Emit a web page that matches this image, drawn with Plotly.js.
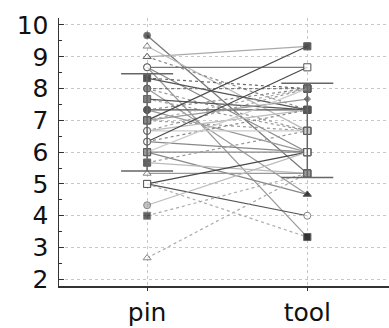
<!DOCTYPE html>
<html>
<head>
<meta charset="utf-8">
<script src="https://cdn.plot.ly/plotly-3.0.1.min.js"></script>
<style>html,body{margin:0;padding:0;background:#fff}#chart{width:389px;height:328px}</style>
</head>
<body>
<div id="chart"></div>
<script>
// Categories
var categories = ['pin', 'tool'];
// Paired scores per subject
var pinScores  = [9.67, 9.33, 9.0, 9.0, 8.67, 8.67, 8.67, 8.33, 8.33, 8.0, 8.0, 8.0, 7.67, 7.67, 7.33, 7.33, 7.33, 7.0, 7.0, 7.0, 7.0, 6.67, 6.67, 6.67, 6.33, 6.33, 6.33, 6.0, 6.0, 6.0, 5.67, 5.67, 5.33, 5.0, 5.0, 5.0, 4.33, 4.0, 2.67];
var toolScores = [5.33, 6.67, 9.33, 7.33, 8.67, 6.0, 3.33, 8.0, 7.33, 6.67, 8.0, 4.67, 7.33, 6.67, 7.33, 6.0, 8.0, 9.33, 6.67, 7.67, 8.0, 8.0, 6.67, 7.33, 8.67, 7.33, 6.0, 6.0, 4.67, 8.0, 6.67, 5.33, 5.33, 6.0, 4.0, 3.33, 6.0, 5.33, 5.33];
// Line shade / dash per subject
var lineShade = ['#777', '#bbb', '#aaa', '#888', '#777', '#888', '#999', '#666', '#555', '#999', '#777', '#999', '#555', '#999', '#555', '#999', '#888', '#4a4a4a', '#999', '#999', '#aaa', '#999', '#ccc', '#bbb', '#4a4a4a', '#888', '#888', '#888', '#888', '#ccc', '#999', '#bbb', '#999', '#4a4a4a', '#555', '#aaa', '#bbb', '#aaa', '#aaa'];
var lineDash  = ['solid','solid','solid','dot','solid','solid','solid','dot','solid','dot','dot','solid','solid','dot','solid','solid','dot','solid','dot','solid','dot','dot','solid','solid','solid','dot','solid','solid','solid','solid','dot','solid','solid','solid','solid','dot','solid','dot','dot'];
// Marker style by score level at each condition
var pinLevels  = [9.67, 9.33, 9.0, 8.67, 8.33, 8.0, 7.67, 7.33, 7.0, 6.67, 6.33, 6.0, 5.67, 5.33, 5.0, 4.33, 4.0, 2.67];
var pinSymbols = ['circle','triangle-up','triangle-up','circle','square','circle','square','circle','square','circle','circle','square','square','triangle-up','square','circle','square','triangle-up'];
var pinFills   = ['#222','#fff','#fff','#fff','#444','#888','#777','#555','#888','#fff','#fff','#999','#555','#fff','#fff','#aaa','#222','#fff'];
var toolLevels  = [9.33, 8.67, 8.0, 7.67, 7.33, 6.67, 6.0, 5.33, 4.67, 4.0, 3.33];
var toolSymbols = ['square','square','square','diamond','square','square','square','square','triangle-up','circle','square'];
var toolFills   = ['#444','#fff','#777','#555','#555','#ccc','#fff','#999','#222','#fff','#222'];
// Summary bars (upper / lower)
var barHigh = [8.47, 8.17];
var barLow  = [5.41, 5.20];

function styleFor(v, levels, syms, fills) {
  for (var i = 0; i < levels.length; i++) {
    if (Math.abs(levels[i] - v) < 0.05) return {s: syms[i], f: fills[i]};
  }
  return {s: 'circle', f: '#888'};
}

var traces = [];
for (var i = 0; i < pinScores.length; i++) {
  var a = styleFor(pinScores[i], pinLevels, pinSymbols, pinFills);
  var b = styleFor(toolScores[i], toolLevels, toolSymbols, toolFills);
  traces.push({
    type: 'scatter', mode: 'lines+markers',
    x: categories, y: [pinScores[i], toolScores[i]],
    line: {color: lineShade[i], width: 1.2, dash: lineDash[i]},
    marker: {symbol: [a.s, b.s], color: [a.f, b.f], size: [7, b.s === 'diamond' ? 5 : 7],
             line: {color: '#555', width: 1}},
    hoverinfo: 'skip', showlegend: false
  });
}
var means = [], errs = [];
for (var k = 0; k < 2; k++) { means.push((barHigh[k] + barLow[k]) / 2); errs.push((barHigh[k] - barLow[k]) / 2); }
traces.push({
  type: 'scatter', mode: 'markers', x: categories, y: means,
  marker: {size: 1, opacity: 0},
  error_y: {type: 'data', array: errs, visible: true, color: '#666', thickness: 1.5, width: 26},
  hoverinfo: 'skip', showlegend: false
});

var layout = {
  width: 389, height: 328,
  margin: {l: 59, r: 0, t: 18, b: 42},
  paper_bgcolor: '#fff', plot_bgcolor: '#fff',
  font: {family: 'DejaVu Sans, sans-serif', color: '#111'},
  xaxis: {
    type: 'category', range: [-0.55, 1.51],
    showgrid: true, gridcolor: '#c8c8c8', griddash: 'dot', gridwidth: 1,
    showline: true, linecolor: '#333', linewidth: 1.5,
    ticks: 'outside', ticklen: 3, tickcolor: '#333',
    tickfont: {size: 25}, ticklabelstandoff: 0, zeroline: false
  },
  yaxis: {
    range: [1.79, 10.22], tickvals: [2,3,4,5,6,7,8,9,10],
    showgrid: true, gridcolor: '#c8c8c8', griddash: 'dot', gridwidth: 1,
    showline: true, linecolor: '#333', linewidth: 1.5,
    ticks: 'inside', ticklen: 5, tickcolor: '#333',
    minor: {dtick: 0.5, ticks: 'inside', ticklen: 3, tickcolor: '#333', showgrid: false},
    tickfont: {size: 25}, ticklabelstandoff: 4, zeroline: false
  }
};
Plotly.newPlot('chart', traces, layout, {staticPlot: true, displayModeBar: false});
</script>
</body>
</html>
